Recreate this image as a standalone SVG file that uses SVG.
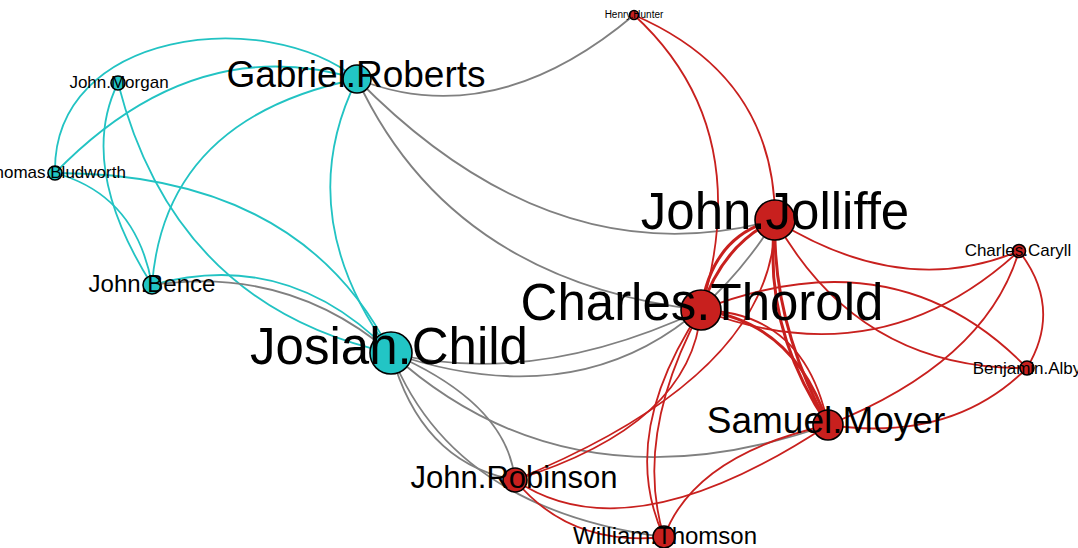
<svg xmlns="http://www.w3.org/2000/svg" width="1078" height="548" viewBox="0 0 1078 548">
<style>
.e{fill:none;stroke-width:1.8}
.t{stroke:#22c3c3}
.g{stroke:#808080}
.r{stroke:#c8201e}
.rk{stroke:#c8201e;stroke-width:3}
.nt{fill:#22c5c5;stroke:#000;stroke-width:1.6}
.nr{fill:#c8201e;stroke:#000;stroke-width:1.6}
text{font-family:"Liberation Sans",Arial,sans-serif;text-anchor:middle;fill:#000}
</style>
<rect width="1078" height="548" fill="#fff"/>
<g id="edges">
<!-- teal -->
<path class="e t" d="M55,173 C52,30 265,5 357,79"/>
<path class="e t" d="M55,173 Q194,30 357,79"/>
<path class="e t" d="M118,83 Q77,166 152,285"/>
<path class="e t" d="M118,83 Q175,306 391,353"/>
<path class="e t" d="M55,173 Q136,195 152,285"/>
<path class="e t" d="M357,79 Q165,118 152,285"/>
<path class="e t" d="M55,173 Q301,173 391,353"/>
<path class="e t" d="M152,285 Q288,247 391,353"/>
<path class="e t" d="M357,79 Q290,214 391,353"/>
<!-- grey -->
<path class="e g" d="M152,285 Q288,265 391,353"/>
<path class="e g" d="M391,353 Q452,509 664,537"/>
<path class="e g" d="M391,353 Q421,463 515,480"/>
<path class="e g" d="M391,353 Q507,403 515,480"/>
<path class="e g" d="M391,353 Q570,515 828,425"/>
<path class="e g" d="M391,353 Q534,388 701,310"/>
<path class="e g" d="M391,353 Q637,437 775,220"/>
<path class="e g" d="M357,79 Q494,133 634,15"/>
<path class="e g" d="M357,79 Q554,280 775,220"/>
<path class="e g" d="M357,79 Q451,281 701,310"/>
<!-- red -->
<path class="e r" d="M634,15 Q775,76 775,220"/>
<path class="e r" d="M634,15 Q756,127 701,310"/>
<path class="e rk" d="M775,220 Q712,235 701,310"/>
<path class="e rk" d="M775,220 Q722,245 701,310"/>
<path class="e r" d="M775,220 Q775,374 515,480"/>
<path class="e r" d="M701,310 Q692,425 515,480"/>
<path class="e r" d="M701,310 Q617,436 664,537"/>
<path class="e r" d="M701,310 Q633,436 664,537"/>
<path class="e r" d="M664,537 Q694,455 828,425"/>
<path class="e r" d="M515,480 Q628,557 828,425"/>
<path class="e r" d="M515,480 Q570,547 664,537"/>
<path class="e rk" d="M775,220 Q762,327 828,425"/>
<path class="e rk" d="M775,220 Q772,323 828,425"/>
<path class="e rk" d="M701,310 Q795,322 828,425"/>
<path class="e r" d="M701,310 Q805,312 828,425"/>
<path class="e r" d="M775,220 Q903,300 1019,251"/>
<path class="e r" d="M775,220 Q859,370 1027,368"/>
<path class="e r" d="M701,310 Q896,233 1027,368"/>
<path class="e r" d="M701,310 Q880,379 1019,251"/>
<path class="e r" d="M1019,251 Q986,362 828,425"/>
<path class="e r" d="M1019,251 Q1063,308 1027,368"/>
<path class="e r" d="M1027,368 Q952,443 828,425"/>
</g>
<g id="n-morgan"><circle class="nt" cx="118" cy="83" r="7"/><text x="119" y="88" font-size="17">John.Morgan</text></g>
<g id="n-bludworth"><circle class="nt" cx="55" cy="173" r="7"/><text x="55" y="178" font-size="17">Thomas.Bludworth</text></g>
<g id="n-gabriel"><circle class="nt" cx="357" cy="79" r="14"/><text x="356" y="87" font-size="37">Gabriel.Roberts</text></g>
<g id="n-bence"><circle class="nt" cx="152" cy="285" r="9"/><text x="152" y="292" font-size="24">John.Bence</text></g>
<g id="n-josiah"><circle class="nt" cx="391" cy="353" r="21"/><text x="389" y="364" font-size="51">Josiah.Child</text></g>
<g id="n-hunter"><circle class="nr" cx="634" cy="15" r="4.5"/><text x="634" y="18" font-size="10">Henry.Hunter</text></g>
<g id="n-jolliffe"><circle class="nr" cx="775" cy="220" r="20"/><text x="775" y="229" font-size="51">John.Jolliffe</text></g>
<g id="n-thorold"><circle class="nr" cx="701" cy="310" r="20"/><text x="702" y="320" font-size="51">Charles.Thorold</text></g>
<g id="n-caryll"><circle class="nr" cx="1019" cy="251" r="6.5"/><text x="1018" y="256" font-size="17">Charles.Caryll</text></g>
<g id="n-alby"><circle class="nr" cx="1027" cy="368" r="7"/><text x="1027" y="374" font-size="17">Benjamin.Alby</text></g>
<g id="n-moyer"><circle class="nr" cx="828" cy="425" r="15"/><text x="826" y="433" font-size="37">Samuel.Moyer</text></g>
<g id="n-robinson"><circle class="nr" cx="515" cy="480" r="12"/><text x="514" y="488" font-size="31">John.Robinson</text></g>
<g id="n-thomson"><circle class="nr" cx="664" cy="537" r="11"/><text x="665" y="544" font-size="24">William.Thomson</text></g>
</svg>
